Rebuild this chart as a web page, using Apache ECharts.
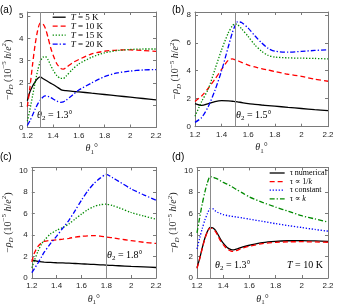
<!DOCTYPE html>
<html><head><meta charset="utf-8">
<script src="https://cdn.jsdelivr.net/npm/echarts@6/dist/echarts.min.js"></script>
<style>html,body{margin:0;padding:0;background:#fff}#c{width:344px;height:307px}</style>
</head><body><div id="c"></div>
<script>
// ---------- data ----------
const xTicks = [1.2, 1.4, 1.6, 1.8, 2.0, 2.2];
const yTicksA = [0, 1, 2, 3, 4, 5];
const yTicksB = [0, 2, 4, 6, 8];
const yTicksC = [0, 2, 4, 6, 8, 10];
const theta2 = [1.3, 1.5, 1.8, 1.3];

// panel (a)
const xA = [1.2,1.22,1.24,1.26,1.28,1.30,1.32,1.34,1.36,1.38,1.40,1.43,1.46,1.48,1.50,1.55,1.60,1.70,1.80,1.90,2.00,2.10,2.20];
const aT5  = [1.2,1.6,1.85,2.05,2.2,2.27,2.2,2.13,2.06,1.99,1.93,1.82,1.7,1.66,1.65,1.62,1.6,1.54,1.48,1.42,1.36,1.3,1.24];
const aT10 = [0.94,1.8,2.8,3.7,4.35,4.68,4.66,4.45,4.05,3.6,3.25,2.85,2.65,2.62,2.68,2.9,3.05,3.3,3.42,3.47,3.48,3.45,3.41];
const aT15 = [0.28,0.8,1.4,2.0,2.55,2.95,3.15,3.18,3.05,2.8,2.58,2.32,2.2,2.2,2.3,2.6,2.85,3.15,3.35,3.45,3.5,3.52,3.52];
const aT20 = [0.09,0.3,0.55,0.82,1.05,1.22,1.36,1.42,1.4,1.35,1.28,1.18,1.13,1.15,1.22,1.45,1.68,2.0,2.28,2.45,2.53,2.58,2.6];

// panel (b)
const xB = [1.2,1.25,1.3,1.35,1.4,1.45,1.48,1.5,1.52,1.55,1.6,1.65,1.7,1.75,1.8,1.9,2.0,2.1,2.2];
const bT5  = [1.65,1.52,1.65,1.8,1.87,1.85,1.82,1.8,1.78,1.73,1.65,1.6,1.55,1.51,1.47,1.38,1.3,1.22,1.15];
const bT10 = [1.8,2.2,2.75,3.4,4.1,4.75,4.85,4.8,4.72,4.6,4.4,4.27,4.15,4.05,3.95,3.75,3.6,3.4,3.25];
const bT15 = [0.74,1.8,2.7,4.1,5.5,6.7,7.2,7.35,7.3,7.0,6.45,5.85,5.4,5.1,4.98,4.92,4.9,4.88,4.85];
const bT20 = [0.31,0.65,1.45,2.6,4.0,5.7,6.7,7.2,7.5,7.45,7.05,6.5,6.0,5.6,5.4,5.33,5.38,5.45,5.5];

// panel (c)
const xC = [1.2,1.22,1.25,1.28,1.3,1.35,1.4,1.45,1.5,1.55,1.6,1.65,1.7,1.75,1.8,1.85,1.9,2.0,2.1,2.2];
const cT5  = [1.72,1.62,1.55,1.5,1.48,1.45,1.42,1.4,1.38,1.35,1.32,1.29,1.26,1.23,1.2,1.17,1.14,1.08,1.03,0.98];
const cT10 = [1.5,2.3,2.95,3.3,3.4,3.5,3.55,3.62,3.7,3.8,3.88,3.93,3.95,3.9,3.82,3.75,3.65,3.48,3.33,3.22];
const cT15 = [0.95,1.6,2.5,3.2,3.5,4.1,4.45,4.7,5.05,5.5,5.95,6.35,6.65,6.82,6.88,6.75,6.55,6.1,5.78,5.48];
const cT20 = [0.5,0.85,1.4,2.0,2.4,3.2,3.9,4.65,5.4,6.3,7.25,8.1,8.8,9.3,9.65,9.35,9.0,8.3,7.75,7.25];

// panel (d)
const xD = [1.2,1.22,1.24,1.26,1.28,1.30,1.32,1.34,1.36,1.38,1.40,1.43,1.46,1.48,1.50,1.55,1.60,1.70,1.80,1.90,2.00,2.10,2.20];
const dNum   = [0.95,1.8,2.8,3.7,4.35,4.72,4.68,4.45,4.05,3.6,3.25,2.85,2.65,2.62,2.68,2.9,3.05,3.3,3.42,3.47,3.48,3.45,3.41];
const dInvK  = [0.9,1.75,2.75,3.65,4.3,4.65,4.6,4.35,3.92,3.45,3.1,2.7,2.5,2.47,2.55,2.8,2.97,3.2,3.32,3.37,3.38,3.36,3.33];
const dConst = [2.7,3.7,4.6,5.4,6.0,6.45,6.45,6.25,6.1,6.0,5.9,5.82,5.75,5.72,5.68,5.58,5.48,5.27,5.06,4.87,4.7,4.52,4.36];
const dK     = [4.2,5.6,6.9,8.0,8.9,9.45,9.4,9.3,9.2,9.05,8.9,8.75,8.55,8.4,8.25,7.9,7.55,7.05,6.6,6.2,5.8,5.5,5.2];

const namesT = ['T = 5 K', 'T = 10 K', 'T = 15 K', 'T = 20 K'];
const namesD = ['τ numerical', 'τ ∝ 1/k', 'τ constant', 'τ ∝ k'];

// ---------- style ----------
const C = {k:'#000000', r:'#ff0000', g:'#008a00', b:'#0000ff'};
const DASH = [5, 3], DOT = [1.3, 1.7], DASHDOT = [5, 2, 1.3, 2];
const AX = '#7a7a7a', TXT = '#262626';
const SERIF = '"Liberation Serif","DejaVu Serif",serif';
const SANS = '"Liberation Sans",Arial,sans-serif';
const rich = {
  n: {fontFamily: SERIF, fontSize: 10, color: TXT, lineHeight: 14},
  i: {fontFamily: SERIF, fontSize: 10, fontStyle: 'italic', color: TXT, lineHeight: 14},
  s: {fontFamily: SERIF, fontSize: 7, color: TXT, verticalAlign: 'bottom', lineHeight: 14},
  si: {fontFamily: SERIF, fontSize: 7, fontStyle: 'italic', color: TXT, verticalAlign: 'bottom', lineHeight: 14},
  p: {fontFamily: SERIF, fontSize: 7, color: TXT, verticalAlign: 'top', lineHeight: 14}
};

const grids = [
  {left: 22, top: 12, width: 134, height: 115.5},
  {left: 195, top: 12, width: 133, height: 114.7},
  {left: 25, top: 167.4, width: 131, height: 113.3},
  {left: 197, top: 167.4, width: 131, height: 113.3}
];
const yMax = [5.18, 8.2, 10.3, 10.3];
const yTicks = [yTicksA, yTicksB, yTicksC, yTicksC];

const xAxes = [], yAxes = [];
grids.forEach((g, gi) => {
  const base = {type: 'value', gridIndex: gi, min: 1.2, max: 2.2, splitLine: {show: false},
    axisLine: {show: true, onZero: false, lineStyle: {color: AX, width: 1}},
    axisTick: {show: true, inside: true, length: 3, customValues: xTicks, lineStyle: {color: AX}}};
  xAxes.push(Object.assign({}, base, {position: 'bottom',
    axisLabel: {customValues: xTicks, fontSize: 8, fontFamily: SANS, color: TXT, margin: 4,
      formatter: v => String(Math.round(v * 10) / 10)},
    name: '{i|θ}{s|1}{n|°}', nameLocation: 'middle', nameGap: 14,
    nameTextStyle: {rich: rich}}));
  xAxes.push(Object.assign({}, base, {position: 'top', axisLabel: {show: false}}));
  const ybase = {type: 'value', gridIndex: gi, min: 0, max: yMax[gi], splitLine: {show: false},
    axisLine: {show: true, onZero: false, lineStyle: {color: AX, width: 1}},
    axisTick: {show: true, inside: true, length: 3, customValues: yTicks[gi], lineStyle: {color: AX}}};
  yAxes.push(Object.assign({}, ybase, {position: 'left',
    axisLabel: {customValues: yTicks[gi], fontSize: 8, fontFamily: SANS, color: TXT, margin: 4},
    name: '{n|−}{i|ρ}{si|D}{n| (10}{p|−5}{n| }{i|h}{n|/}{i|e}{p|2}{n|)}',
    nameLocation: 'middle', nameGap: gi >= 2 ? 14 : 11, nameTextStyle: {rich: rich}}));
  yAxes.push(Object.assign({}, ybase, {position: 'right', axisLabel: {show: false}}));
});

function ser(name, gi, xs, ys, color, type, vline) {
  const s = {type: 'line', name: name, xAxisIndex: gi * 2, yAxisIndex: gi * 2,
    data: xs.map((x, i) => [x, ys[i]]), symbol: 'none', smooth: 0.25,
    lineStyle: {color: color, width: 1.3, type: type}, itemStyle: {color: color},
    silent: true, animation: false};
  if (vline !== undefined) {
    s.markLine = {silent: true, symbol: ['none', 'none'], label: {show: false}, animation: false,
      lineStyle: {color: '#8c8c8c', width: 1, type: 'solid'}, data: [{xAxis: vline}]};
  }
  return s;
}

const series = [
  ser(namesT[0], 0, xA, aT5, C.k, 'solid', theta2[0]),
  ser(namesT[1], 0, xA, aT10, C.r, DASH),
  ser(namesT[2], 0, xA, aT15, C.g, DOT),
  ser(namesT[3], 0, xA, aT20, C.b, DASHDOT),
  ser(namesT[0], 1, xB, bT5, C.k, 'solid', theta2[1]),
  ser(namesT[1], 1, xB, bT10, C.r, DASH),
  ser(namesT[2], 1, xB, bT15, C.g, DOT),
  ser(namesT[3], 1, xB, bT20, C.b, DASHDOT),
  ser(namesT[0], 2, xC, cT5, C.k, 'solid', theta2[2]),
  ser(namesT[1], 2, xC, cT10, C.r, DASH),
  ser(namesT[2], 2, xC, cT15, C.g, DOT),
  ser(namesT[3], 2, xC, cT20, C.b, DASHDOT),
  ser(namesD[0], 3, xD, dNum, C.k, 'solid', theta2[3]),
  ser(namesD[1], 3, xD, dInvK, C.r, DASH),
  ser(namesD[2], 3, xD, dConst, C.b, DOT),
  ser(namesD[3], 3, xD, dK, C.g, DASHDOT)
];

const lrich = {
  n: {fontFamily: SERIF, fontSize: 9, color: '#000'},
  i: {fontFamily: SERIF, fontSize: 9, fontStyle: 'italic', color: '#000'}
};
const legFmt = {
  'T = 5 K': '{i|T}{n| = 5 K}', 'T = 10 K': '{i|T}{n| = 10 K}',
  'T = 15 K': '{i|T}{n| = 15 K}', 'T = 20 K': '{i|T}{n| = 20 K}',
  'τ numerical': '{n|τ numerical}', 'τ ∝ 1/k': '{n|τ ∝ 1/}{i|k}',
  'τ constant': '{n|τ constant}', 'τ ∝ k': '{n|τ ∝ }{i|k}'
};
const legendBase = {orient: 'vertical', padding: 0, itemGap: 0, itemHeight: 8.6,
  selectedMode: false, formatter: n => legFmt[n],
  itemStyle: {color: 'rgba(0,0,0,0)', borderColor: 'rgba(0,0,0,0)', borderWidth: 0, opacity: 0},
  lineStyle: {width: 1.3},
  textStyle: {rich: lrich, lineHeight: 8.6, padding: [0, 0, 0, 0]}};

const label = (txt, x, y, size) => ({type: 'text', left: x, top: y,
  style: {text: txt, font: size + 'px ' + SANS, fill: '#000'}});
const ann = (txt, x, y) => ({type: 'text', left: x, top: y, style: {text: txt, rich: rich}});

const option = {
  animation: false,
  grid: grids,
  xAxis: xAxes,
  yAxis: yAxes,
  series: series,
  legend: [
    Object.assign({}, legendBase, {data: namesT, left: 52, top: 12.7, itemWidth: 13}),
    Object.assign({}, legendBase, {data: namesD, left: 269, top: 168.7, itemWidth: 15,
      textStyle: {rich: {n: Object.assign({}, lrich.n, {fontSize: 8}), i: Object.assign({}, lrich.i, {fontSize: 8})}, lineHeight: 8.6}})
  ],
  graphic: [
    label('(a)', 0, 5, 10), label('(b)', 172, 5, 10), label('(c)', 0, 152, 10), label('(d)', 172, 152, 10),
    ann('{i|θ}{s|2}{n| = 1.3°}', 37, 110),
    ann('{i|θ}{s|2}{n| = 1.5°}', 236, 110),
    ann('{i|θ}{s|2}{n| = 1.8°}', 107, 250),
    ann('{i|θ}{s|2}{n| = 1.3°}', 215, 260),
    ann('{i|T}{n| = 10 K}', 287, 260)
  ]
};
const chart = echarts.init(document.getElementById('c'), null, {renderer: 'canvas'});
chart.setOption(option);
</script>
</body></html>
